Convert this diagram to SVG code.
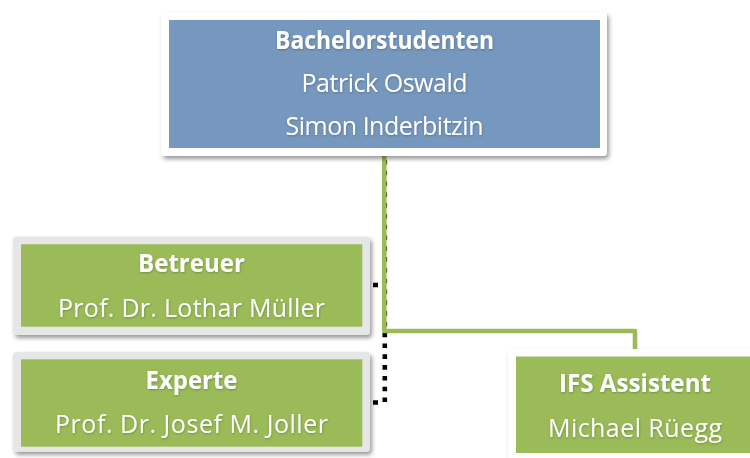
<svg xmlns="http://www.w3.org/2000/svg" width="750" height="458" viewBox="0 0 750 458">
  <defs>
    <filter id="shadow" x="-10%" y="-10%" width="120%" height="130%">
      <feDropShadow dx="2" dy="3" stdDeviation="2" flood-color="#000" flood-opacity="0.4"/>
    </filter>
    <filter id="glow" x="-5%" y="-20%" width="110%" height="150%">
      <feDropShadow dx="0.5" dy="1" stdDeviation="1.2" flood-color="#000" flood-opacity="0.25"/>
    </filter>
  </defs>
  <style>
    .frame-w { fill: #ffffff; filter: url(#shadow); }
    .frame-g { fill: #e6e6e6; filter: url(#shadow); }
    .blue { fill: #7698be; }
    .green { fill: #9bbb59; }
    text { font-family: "Open Sans", "DejaVu Sans", sans-serif; font-size: 25px; fill: #ffffff; text-anchor: middle; filter: url(#glow); }
    .b { font-weight: bold; font-size: 25px; }
    .link { fill: none; stroke: #9bbb59; stroke-width: 4.6; stroke-linejoin: round; }
    .dots { fill: none; stroke: #000000; stroke-width: 4.6; stroke-dasharray: 4.6 6.2; stroke-dashoffset: -3.9; }
    .stub { fill: none; stroke: #000000; stroke-width: 4.6; }
  </style>

  <g id="connectors">
    <!-- dotted links to Betreuer and Experte -->
    <path class="dots" d="M 384.8 156 V 402.3"/>
    <path class="stub" d="M 373 285 H 378 M 373 402.5 H 378"/>
    <!-- solid link to IFS Assistent -->
    <path class="link" d="M 384.3 156 V 331 H 635 V 349"/>
  </g>

  <g id="bachelorstudenten">
    <rect class="frame-w" x="161" y="12" width="446" height="144" rx="4"/>
    <rect class="blue" x="169" y="20" width="431" height="128"/>
    <text class="b" x="384.5" y="49" textLength="219" lengthAdjust="spacingAndGlyphs">Bachelorstudenten</text>
    <text x="384.5" y="91.5" textLength="166">Patrick Oswald</text>
    <text x="384.5" y="134.5" textLength="198">Simon Inderbitzin</text>
  </g>

  <g id="betreuer">
    <rect class="frame-g" x="13" y="236.5" width="357" height="98.5" rx="4"/>
    <rect class="green" x="21" y="244.3" width="341.3" height="82.4"/>
    <text class="b" x="191.5" y="272" textLength="107" lengthAdjust="spacingAndGlyphs">Betreuer</text>
    <text x="191.5" y="317" textLength="267">Prof. Dr. Lothar Müller</text>
  </g>

  <g id="experte">
    <rect class="frame-g" x="13" y="351.7" width="357" height="100" rx="4"/>
    <rect class="green" x="21" y="359.3" width="341.3" height="87.4"/>
    <text class="b" x="191.5" y="388.5" textLength="92" lengthAdjust="spacingAndGlyphs">Experte</text>
    <text x="191.5" y="433.3" textLength="273">Prof. Dr. Josef M. Joller</text>
  </g>

  <g id="ifs-assistent">
    <rect class="frame-w" x="508.3" y="349.3" width="254" height="118" rx="4"/>
    <rect class="green" x="516" y="356.5" width="238" height="96.5"/>
    <text class="b" x="635" y="391.7" textLength="152" lengthAdjust="spacingAndGlyphs">IFS Assistent</text>
    <text x="635" y="436.7" textLength="174">Michael Rüegg</text>
  </g>
</svg>
